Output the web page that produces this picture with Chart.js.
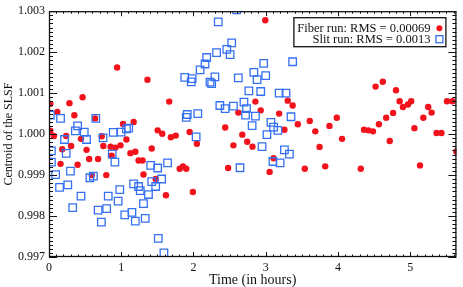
<!DOCTYPE html>
<html>
<head>
<meta charset="utf-8">
<script src="https://cdn.jsdelivr.net/npm/chart.js@4.4.0/dist/chart.umd.min.js"></script>
<style>
  body { margin: 0; background: #fff; }
</style>
</head>
<body>
<canvas id="grafico" width="463" height="287"></canvas>
<script>
// fiber run (red dots)
const fiberTime = [
  0.019, 0.019, 0.068, 0.115, 0.160, 0.183, 0.238, 0.283, 0.306, 0.351,
  0.396, 0.443, 0.465, 0.520, 0.556, 0.593, 0.638, 0.679, 0.730, 0.752,
  0.793, 0.853, 0.867, 0.921, 0.943, 0.990, 1.025, 1.072, 1.127, 1.172,
  1.195, 1.240, 1.295, 1.308, 1.363, 1.422, 1.477, 1.504, 1.568, 1.619,
  1.664, 1.687, 1.755, 1.810, 1.855, 1.900, 1.947, 1.992, 2.047, 2.439,
  2.480, 2.553, 2.621, 2.676, 2.744, 2.817, 2.857, 2.931, 2.994, 3.054,
  3.109, 3.186, 3.259, 3.305, 3.373, 3.445, 3.541, 3.610, 3.687, 3.746,
  3.824, 3.883, 3.984, 4.057, 4.316, 4.361, 4.422, 4.485, 4.521, 4.567,
  4.621, 4.668, 4.717, 4.763, 4.804, 4.854, 4.900, 4.969, 5.014, 5.059,
  5.136, 5.182, 5.250, 5.297, 5.365, 5.433, 5.510, 5.584, 5.638
];
const fiberCentroid = [
  1.000739, 1.000081, 0.999955, 1.000542, 0.999274, 0.999630, 0.999955, 1.000755, 0.999711, 1.000461,
  0.999251, 0.999884, 1.000898, 0.999616, 0.999393, 0.998999, 1.000383, 0.999393, 0.999948, 0.999711,
  0.998999, 0.999694, 0.999474, 0.999670, 1.001624, 0.999725, 1.000247, 0.999868, 0.999535, 1.000295,
  0.999569, 0.999355, 0.999355, 0.999013, 1.001325, 0.999647, 0.998904, 1.000091, 1.000010, 0.998508,
  1.000793, 0.999924, 0.999963, 0.999156, 0.999213, 0.999156, 1.000050, 0.998586, 0.999766, 1.000162,
  0.999172, 0.999725, 1.000525, 0.999986, 0.999813, 0.999694, 1.000793, 1.000580, 1.002779, 0.999077,
  0.999410, 1.000501, 1.000105, 1.000817, 1.000698, 1.000240, 0.999156, 1.000318, 1.000067, 0.999687,
  0.999213, 1.000200, 1.000399, 0.999884, 0.999156, 1.000105, 1.000091, 1.000067, 1.001159, 1.000240,
  1.001277, 1.000399, 0.999830, 1.000518, 1.001071, 1.000803, 1.000660, 1.000722, 1.000803, 1.000145,
  0.999236, 1.000399, 1.000660, 1.000525, 1.000026, 1.000026, 1.000803, 1.000803, 0.999576
];

// slit run (blue squares)
const slitTime = [
  0.019, 0.033, 0.033, 0.092, 0.146, 0.160, 0.215, 0.238, 0.260, 0.297,
  0.328, 0.365, 0.396, 0.443, 0.488, 0.520, 0.566, 0.615, 0.648, 0.680,
  0.725, 0.748, 0.798, 0.820, 0.875, 0.889, 0.912, 0.957, 0.980, 0.998,
  1.049, 1.072, 1.103, 1.148, 1.172, 1.195, 1.240, 1.263, 1.308, 1.332,
  1.377, 1.408, 1.422, 1.477, 1.504, 1.513, 1.559, 1.591, 1.641, 1.879,
  1.900, 1.914, 1.969, 1.982, 2.037, 2.060, 2.092, 2.160, 2.183, 2.229,
  2.252, 2.297, 2.320, 2.343, 2.365, 2.439, 2.461, 2.507, 2.529, 2.553,
  2.598, 2.621, 2.644, 2.699, 2.721, 2.734, 2.767, 2.812, 2.836, 2.858,
  2.881, 2.931, 2.949, 2.972, 3.000, 3.017, 3.072, 3.100, 3.109, 3.168,
  3.186, 3.199, 3.259, 3.281, 3.328, 3.350, 3.373
];
const slitCentroid = [
  1.000461, 0.999592, 0.999315, 0.999013, 0.998698, 1.000383, 0.999868, 0.999528, 0.998762, 0.999094,
  0.998207, 1.000081, 1.000200, 0.998484, 1.000050, 0.999868, 0.998935, 0.998975, 1.000383, 0.998145,
  0.997851, 0.999908, 0.998183, 0.998484, 0.999512, 1.000043, 0.999315, 0.998366, 0.998643, 1.000050,
  0.998026, 1.000129, 1.000145, 0.998088, 0.998786, 0.997874, 0.998721, 0.998619, 0.998301, 0.997945,
  0.998525, 0.999236, 0.998840, 0.998721, 0.999172, 0.997457, 0.998904, 0.997101, 0.999298, 1.001386,
  1.000406, 1.000478, 1.001277, 1.001355, 0.999932, 1.000501, 1.001569, 1.001711, 1.001870, 1.001268,
  1.001230, 1.001396, 1.001989, 1.002739, 1.000698, 1.000620, 1.002067, 1.001942, 1.002226, 1.000684,
  1.003030, 1.001372, 0.999179, 1.000779, 1.000461, 1.000620, 1.001054, 1.000209, 1.001505, 1.000437,
  1.001332, 1.001040, 0.999694, 1.001728, 1.001427, 0.999986, 1.000288, 0.999331, 1.000169, 1.000091,
  1.001000, 0.999298, 0.999616, 1.001000, 0.999512, 1.000423, 1.001766
];

const xTicks = [0, 1, 2, 3, 4, 5];
const yTicks = [0.997, 0.998, 0.999, 1.000, 1.001, 1.002, 1.003];
const legendLabels = ['Fiber run: RMS = 0.00069', 'Slit run: RMS = 0.0013'];

const RED = '#f2121c';
const BLUE = '#3470f0';

function toPoints(xs, ys) {
  return xs.map((x, i) => ({ x: x, y: ys[i] }));
}

// box around the plot with IDL style ticks pointing inward, on all four sides
const frameTicks = {
  id: 'frameTicks',
  afterDatasetsDraw(chart) {
    const ctx = chart.ctx;
    const a = chart.chartArea;
    const sx = chart.scales.x;
    const sy = chart.scales.y;
    ctx.save();
    ctx.strokeStyle = '#111';
    ctx.lineWidth = 1;
    ctx.beginPath();
    for (let k = 0; k <= 56; k++) {
      const px = Math.round(sx.getPixelForValue(k / 10)) + 0.5;
      const len = k % 10 === 0 ? 5 : 2.5;
      ctx.moveTo(px, a.bottom);
      ctx.lineTo(px, a.bottom - len);
      ctx.moveTo(px, a.top);
      ctx.lineTo(px, a.top + len);
    }
    for (let k = 0; k <= 60; k++) {
      const py = Math.round(sy.getPixelForValue(0.997 + k * 0.0001)) + 0.5;
      const len = k % 10 === 0 ? 8 : 4;
      ctx.moveTo(a.left, py);
      ctx.lineTo(a.left + len, py);
      ctx.moveTo(a.right, py);
      ctx.lineTo(a.right - len, py);
    }
    ctx.stroke();
    ctx.lineWidth = 1.3;
    ctx.strokeRect(a.left + 0.5, a.top + 0.5, a.right - a.left - 1, a.bottom - a.top - 1);
    ctx.restore();
  }
};

// legend box in the upper right corner, text first and marker after it
const boxLegend = {
  id: 'boxLegend',
  afterDraw(chart) {
    const ctx = chart.ctx;
    const a = chart.chartArea;
    const right = a.right - 10.5;
    const top = a.top + 6.5;
    const left = right - 152;
    const height = 29;
    ctx.save();
    ctx.fillStyle = '#fff';
    ctx.fillRect(left, top, right - left, height);
    ctx.strokeStyle = '#111';
    ctx.lineWidth = 1.3;
    ctx.strokeRect(left, top, right - left, height);
    ctx.font = "12.5px 'Liberation Serif', serif";
    ctx.fillStyle = '#111';
    ctx.textAlign = 'right';
    ctx.textBaseline = 'middle';
    legendLabels.forEach((label, i) => {
      const y = top + 10.5 + i * 11;
      ctx.fillText(label, right - 15.5, y + 0.5);
      const mx = right - 6.5;
      if (i === 0) {
        ctx.fillStyle = RED;
        ctx.beginPath();
        ctx.arc(mx, y, 3, 0, Math.PI * 2);
        ctx.fill();
        ctx.fillStyle = '#111';
      } else {
        ctx.strokeStyle = BLUE;
        ctx.lineWidth = 1.3;
        ctx.strokeRect(mx - 3.5, y - 3.5, 7, 7);
      }
    });
    ctx.restore();
  }
};

Chart.defaults.font.family = "'Liberation Serif', serif";
Chart.defaults.color = '#111';

const chart = new Chart(document.getElementById('grafico'), {
  type: 'scatter',
  data: {
    datasets: [
      {
        label: legendLabels[0],
        data: toPoints(fiberTime, fiberCentroid),
        backgroundColor: RED,
        borderWidth: 0,
        pointRadius: 3.2,
        order: 1,
      },
      {
        label: legendLabels[1],
        data: toPoints(slitTime, slitCentroid),
        pointStyle: 'rect',
        backgroundColor: 'rgba(0,0,0,0)',
        borderColor: BLUE,
        borderWidth: 1.3,
        pointRadius: 5.3,
        order: 0,
      },
    ],
  },
  options: {
    responsive: false,
    animation: false,
    devicePixelRatio: 1,
    layout: { padding: { top: 5, right: 1, left: 0, bottom: 0 } },
    plugins: {
      legend: { display: false },
      tooltip: { enabled: false },
    },
    scales: {
      x: {
        type: 'linear',
        min: 0,
        max: 5.64,
        grid: { display: false, drawTicks: false },
        border: { display: false },
        afterBuildTicks: (s) => { s.ticks = xTicks.map((v) => ({ value: v })); },
        afterFit: (s) => { s.height = 30; },
        ticks: {
          padding: 4,
          maxRotation: 0,
          font: { size: 12 },
          callback: (v) => String(v),
        },
        title: {
          display: true,
          text: 'Time (in hours)',
          font: { size: 14, lineHeight: 1 },
          padding: 0,
        },
      },
      y: {
        type: 'linear',
        min: 0.997,
        max: 1.003,
        grid: { display: false, drawTicks: false },
        border: { display: false },
        afterBuildTicks: (s) => { s.ticks = yTicks.map((v) => ({ value: v })); },
        afterFit: (s) => { s.width = 49; },
        ticks: {
          padding: 4,
          font: { size: 12 },
          callback: (v) => v.toFixed(3),
        },
        title: {
          display: true,
          text: 'Centroid of the SLSF',
          font: { size: 12, lineHeight: 1.4 },
          padding: 0,
        },
      },
    },
  },
  plugins: [frameTicks, boxLegend],
});
</script>
</body>
</html>
